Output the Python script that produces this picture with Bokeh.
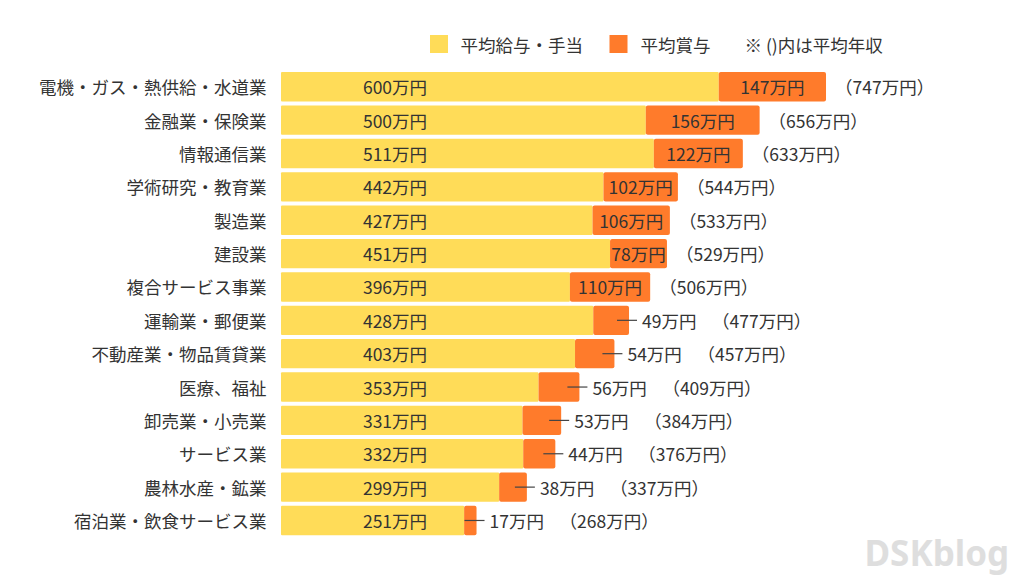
from bokeh.plotting import figure
from bokeh.models import Range1d, ColumnDataSource
from bokeh.core.properties import value
from bokeh.embed import file_html
from bokeh.resources import INLINE

categories = ["電機・ガス・熱供給・水道業", "金融業・保険業", "情報通信業", "学術研究・教育業",
              "製造業", "建設業", "複合サービス事業", "運輸業・郵便業", "不動産業・物品賃貸業",
              "医療、福祉", "卸売業・小売業", "サービス業", "農林水産・鉱業", "宿泊業・飲食サービス業"]
salary = [600, 500, 511, 442, 427, 451, 396, 428, 403, 353, 331, 332, 299, 251]
bonus = [147, 156, 122, 102, 106, 78, 110, 49, 54, 56, 53, 44, 38, 17]
totals = [747, 656, 633, 544, 533, 529, 506, 477, 457, 409, 384, 376, 337, 268]
legend_labels = ["平均給与・手当", "平均賞与"]
note_text = "※ ()内は平均年収"
watermark = "DSKblog"

YELLOW = "#FFDC58"
ORANGE = "#FF7B2B"
TEXT = "#333333"
FONT = "Noto Sans CJK JP"
FS = "17.5px"

W, H = 1024, 576
X0PX = 280.5          # page x of value 0
PXU = 0.7296          # px per unit
ROW0 = 86.3           # page y of first row centre
ROWSTEP = 33.36

def dx(px):
    return px / PXU

xs = -X0PX / PXU
xe = (W - X0PX) / PXU
ys_top = -ROW0 / ROWSTEP
ys_bot = (H - ROW0) / ROWSTEP

def sx(cx):  # page px -> data x
    return xs + cx / PXU

def sy(cy):  # page px -> data y
    return ys_top + cy / ROWSTEP

p = figure(width=W, height=H, output_backend="svg", toolbar_location=None,
           x_range=Range1d(xs, xe), y_range=Range1d(ys_bot, ys_top),
           min_border=0, outline_line_color=None)
p.axis.visible = False
p.grid.visible = False
p.background_fill_color = "white"
p.border_fill_color = "white"

n = len(categories)
rows = list(range(n))
src = ColumnDataSource(dict(y=rows, cat=categories, sal=salary, bon=bonus, tot=totals,
                            sal_lbl=[f"{v}万円" for v in salary]))

bh = 0.88
p.hbar(y="y", left=0, right="sal", height=bh, source=src, fill_color=YELLOW,
       line_color=None, border_radius=1)
p.hbar(y="y", left="sal", right="tot", height=bh, source=src, fill_color=ORANGE,
       line_color=None, border_radius=2)

# category labels
p.text(x=sx(266), y="y", text="cat", source=src, text_align="right", text_baseline="middle",
       text_font=value(FONT), text_font_size=FS, text_color=TEXT)
# salary labels
p.text(x=dx(394.5 - X0PX), y="y", text="sal_lbl", source=src, text_align="center",
       text_baseline="middle", text_font=value(FONT), text_font_size=FS, text_color=TEXT)

ins_y, ins_x, ins_t = [], [], []
out_y, out_x, out_t, l0, l1 = [], [], [], [], []
tin_x, tin_y, tin_t = [], [], []
tout_x, tout_y, tout_t = [], [], []
for i in rows:
    s, b, t = salary[i], bonus[i], totals[i]
    if b >= 60:
        ins_y.append(i); ins_x.append(s + b / 2); ins_t.append(f"{b}万円")
        tin_y.append(i); tin_x.append(t + dx(9)); tin_t.append(f"（{t}万円）")
    else:
        out_y.append(i); out_x.append(t + dx(13)); out_t.append(f"{b}万円")
        l0.append(t - dx(12)); l1.append(t + dx(8))
        tout_y.append(i); tout_x.append(t + dx(83)); tout_t.append(f"（{t}万円）")

p.text(x=ins_x, y=ins_y, text=ins_t, text_align="center", text_baseline="middle",
       text_font=value(FONT), text_font_size=FS, text_color=TEXT)
p.segment(x0=l0, x1=l1, y0=out_y, y1=out_y, line_color="#444444", line_width=1.2)
p.text(x=out_x, y=out_y, text=out_t, text_align="left", text_baseline="middle",
       text_font=value(FONT), text_font_size=FS, text_color=TEXT)
p.text(x=tin_x + tout_x, y=tin_y + tout_y, text=tin_t + tout_t, text_align="left",
       text_baseline="middle", text_font=value(FONT), text_font_size=FS, text_color=TEXT)

# legend
ly = sy(43.5)
p.rect(x=[sx(438.5), sx(618)], y=[ly, ly], width=dx(18), height=18 / ROWSTEP,
       fill_color=[YELLOW, ORANGE], line_color=None)
p.text(x=[sx(460), sx(640), sx(744)], y=[ly] * 3,
       text=legend_labels + [note_text], text_align="left", text_baseline="middle",
       text_font=value(FONT), text_font_size=FS, text_color=TEXT)

# watermark
p.text(x=[sx(864)], y=[sy(552)], text=[watermark], text_align="left",
       text_baseline="middle", text_font=value("Noto Sans"), text_font_size="35px",
       text_font_style="bold", text_color="#DEDEDE")

open("out.html", "w").write(file_html(p, INLINE))
